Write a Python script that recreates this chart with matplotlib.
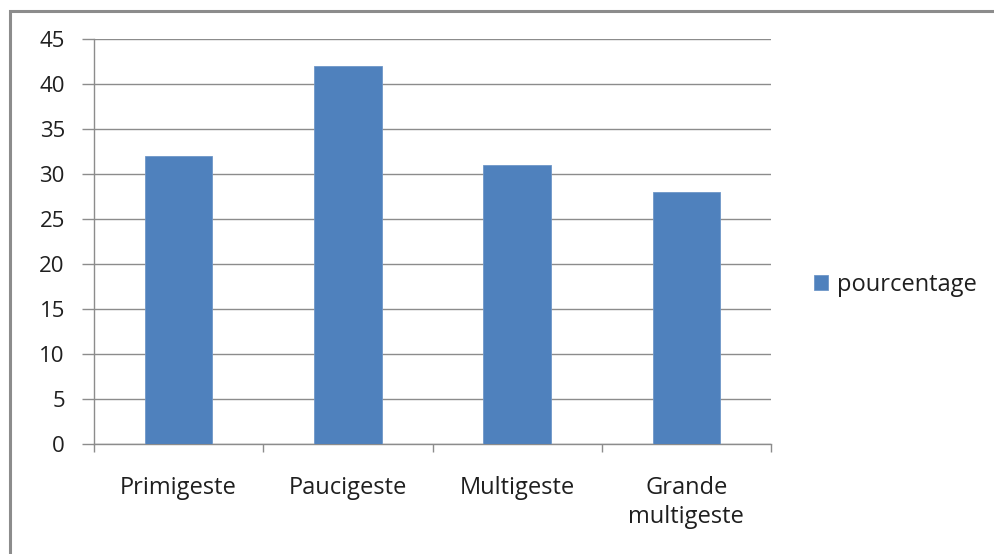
import matplotlib
matplotlib.use("Agg")
import matplotlib.pyplot as plt
from matplotlib.patches import Rectangle, Patch

categories = ["Primigeste", "Paucigeste", "Multigeste", "Grande\nmultigeste"]
pourcentage = [32, 42, 31, 28]
y_ticks = [0, 5, 10, 15, 20, 25, 30, 35, 40, 45]
series_name = "pourcentage"

BAR_COLOR = "#4F81BD"
GRID_COLOR = "#8C8C8C"
TEXT_COLOR = "#1F1F1F"

plt.rcParams["font.family"] = ["Open Sans", "DejaVu Sans"]

W, H = 995, 554
fig = plt.figure(figsize=(W / 100, H / 100), dpi=100)
fig.patch.set_facecolor("white")

# plot area in pixel coordinates
left, right, top, bottom = 94, 771, 39, 444
ax = fig.add_axes([left / W, 1 - bottom / H, (right - left) / W, (bottom - top) / H])

x = list(range(len(categories)))
ax.bar(x, pourcentage, width=0.4, color=BAR_COLOR, edgecolor="#6F97C8",
       linewidth=0.6, zorder=3, label=series_name)

ax.set_xlim(-0.5, len(categories) - 0.5)
ax.set_ylim(0, 45)
ax.set_yticks(y_ticks)
ax.yaxis.grid(True, color=GRID_COLOR, linewidth=1.0, zorder=0)
ax.set_axisbelow(True)

for side in ("top", "right"):
    ax.spines[side].set_visible(False)
for side in ("left", "bottom"):
    ax.spines[side].set_color(GRID_COLOR)
    ax.spines[side].set_linewidth(1.0)

ax.tick_params(axis="y", length=9, width=1.0, color=GRID_COLOR, pad=12,
               labelsize=16, labelcolor=TEXT_COLOR)

# category labels centred under bars, tick marks at category boundaries
ax.set_xticks(x)
ax.set_xticklabels(categories, fontsize=17, color=TEXT_COLOR, linespacing=1.28)
ax.set_xticks([i - 0.5 for i in range(len(categories) + 1)], minor=True)
ax.tick_params(axis="x", which="major", length=0, pad=23)
ax.tick_params(axis="x", which="minor", length=6, width=1.0, color=GRID_COLOR)
for lbl in ax.get_xticklabels():
    lbl.set_verticalalignment("top")

# legend at right
handle = Patch(facecolor=BAR_COLOR, edgecolor="#6F97C8", linewidth=0.6)
fig.legend([handle], [series_name], loc="center left",
           bbox_to_anchor=(793 / W, 1 - 285 / H), frameon=False,
           fontsize=17, handlelength=0.6, handleheight=0.6,
           handletextpad=0.35, labelcolor=TEXT_COLOR)

# chart area border
fig.patches.append(Rectangle((9.5 / W, -0.05), 1.1, 1 - 10.5 / H + 0.05,
                             transform=fig.transFigure, fill=False,
                             edgecolor="#8C8C8C", linewidth=2.2))

fig.savefig("out.png", dpi=100)
